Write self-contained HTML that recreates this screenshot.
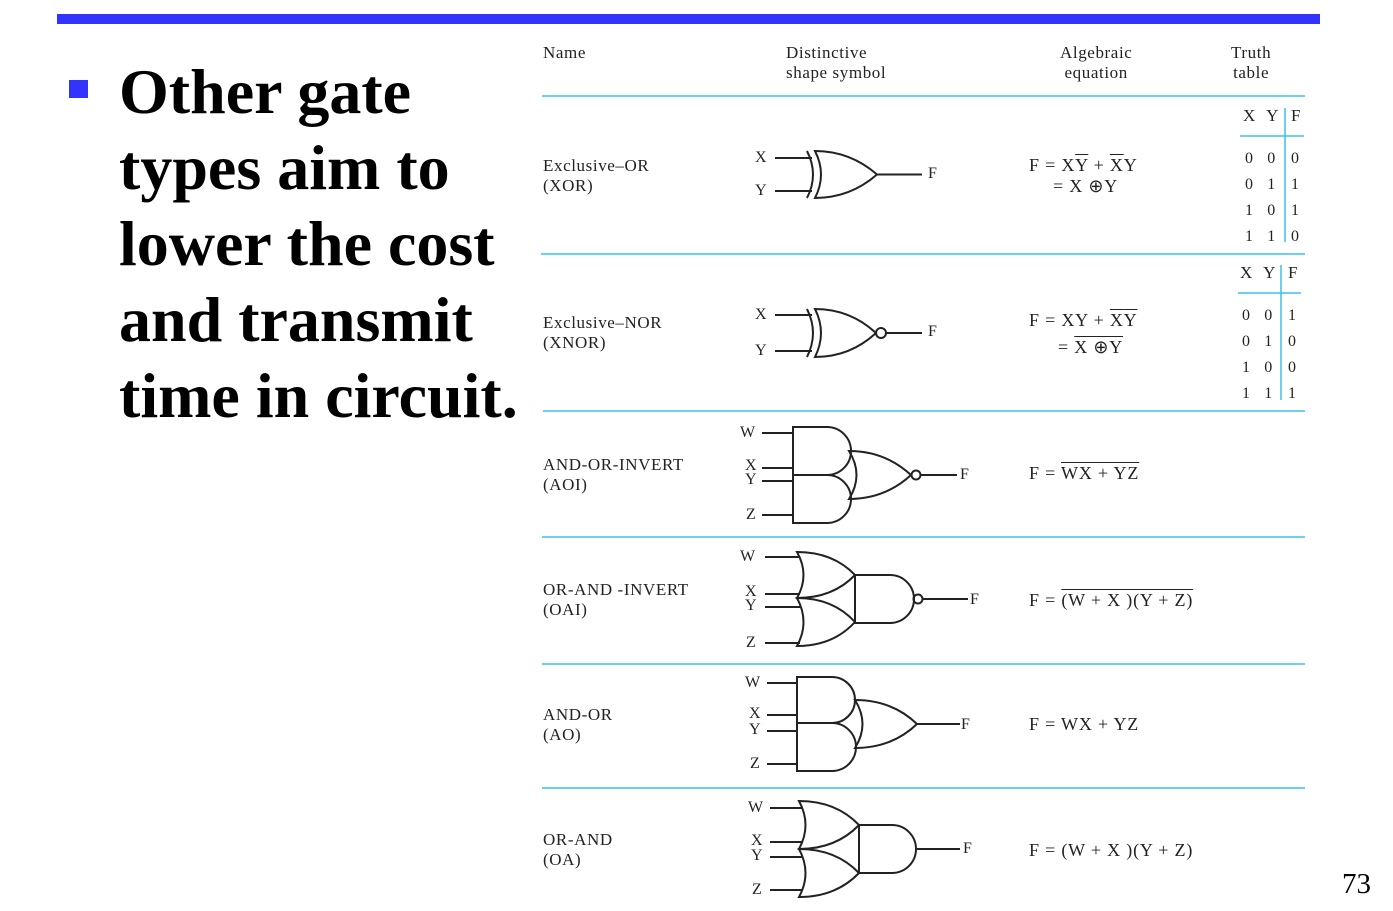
<!DOCTYPE html>
<html><head><meta charset="utf-8"><style>
body{margin:0;width:1393px;height:911px;background:#fff;position:relative;overflow:hidden;font-family:"Liberation Serif",serif;color:#222}
.t{position:absolute;font-size:17px;line-height:20px;white-space:nowrap;letter-spacing:0.6px}
.e{font-size:18px;letter-spacing:0.8px}
.o{text-decoration:overline}
.big{position:absolute;left:119px;top:54px;font-size:64px;line-height:76px;font-weight:bold;color:#000}
.l{position:absolute;font-size:16px;line-height:16px}
</style></head><body>
<div style="position:absolute;left:57px;top:14px;width:1263px;height:10px;background:#3333ff"></div>
<div style="position:absolute;left:69px;top:80px;width:19px;height:18px;background:#3333ff"></div>
<div class="big">Other gate<br>types aim to<br>lower the cost<br>and transmit<br>time in circuit.</div>
<div style="position:absolute;left:1342px;top:868px;font-size:29px;color:#000">73</div>

<div class="t" style="left:543px;top:43px">Name</div>
<div class="t" style="left:786px;top:43px">Distinctive<br>shape symbol</div>
<div class="t" style="left:1060px;top:43px;text-align:center">Algebraic<br>equation</div>
<div class="t" style="left:1231px;top:43px;text-align:center">Truth<br>table</div>

<div class="t" style="left:543px;top:156px">Exclusive–OR<br>(XOR)</div>
<div class="t" style="left:543px;top:313px">Exclusive–NOR<br>(XNOR)</div>
<div class="t" style="left:543px;top:455px">AND-OR-INVERT<br>(AOI)</div>
<div class="t" style="left:543px;top:580px">OR-AND -INVERT<br>(OAI)</div>
<div class="t" style="left:543px;top:705px">AND-OR<br>(AO)</div>
<div class="t" style="left:543px;top:830px">OR-AND<br>(OA)</div>

<div class="t e" style="left:1029px;top:155px">F = X<span class="o">Y</span> + <span class="o">X</span>Y</div>
<div class="t e" style="left:1053px;top:176px">= X ⊕Y</div>
<div class="t e" style="left:1029px;top:310px">F = XY + <span class="o">X</span><span class="o">Y</span></div>
<div class="t e" style="left:1058px;top:337px">= <span class="o">X ⊕Y</span></div>
<div class="t e" style="left:1029px;top:463px">F = <span class="o">WX + YZ</span></div>
<div class="t e" style="left:1029px;top:590px">F = <span class="o">(W + X )(Y + Z)</span></div>
<div class="t e" style="left:1029px;top:714px">F = WX + YZ</div>
<div class="t e" style="left:1029px;top:840px">F = (W + X )(Y + Z)</div>

<!-- truth tables -->
<div class="t" style="left:1243px;top:106px;word-spacing:6px">X Y</div><div class="t" style="left:1291px;top:106px">F</div>
<div class="t" style="left:1245px;top:146px;line-height:26px;font-size:16px;word-spacing:9px">0 0<br>0 1<br>1 0<br>1 1</div>
<div class="t" style="left:1291px;top:146px;line-height:26px;font-size:16px">0<br>1<br>1<br>0</div>
<div class="t" style="left:1240px;top:263px;word-spacing:6px">X Y</div><div class="t" style="left:1288px;top:263px">F</div>
<div class="t" style="left:1242px;top:303px;line-height:26px;font-size:16px;word-spacing:9px">0 0<br>0 1<br>1 0<br>1 1</div>
<div class="t" style="left:1288px;top:303px;line-height:26px;font-size:16px">1<br>0<br>0<br>1</div>

<!-- gate labels -->
<div class="l" style="left:755px;top:150px">X</div><div class="l" style="left:755px;top:183px">Y</div><div class="l" style="left:928px;top:166px">F</div>
<div class="l" style="left:755px;top:307px">X</div><div class="l" style="left:755px;top:343px">Y</div><div class="l" style="left:928px;top:324px">F</div>
<div class="l" style="left:740px;top:425px">W</div><div class="l" style="left:745px;top:458px">X</div><div class="l" style="left:745px;top:472px">Y</div><div class="l" style="left:746px;top:507px">Z</div><div class="l" style="left:960px;top:467px">F</div>
<div class="l" style="left:740px;top:549px">W</div><div class="l" style="left:745px;top:584px">X</div><div class="l" style="left:745px;top:598px">Y</div><div class="l" style="left:746px;top:635px">Z</div><div class="l" style="left:970px;top:592px">F</div>
<div class="l" style="left:745px;top:675px">W</div><div class="l" style="left:749px;top:706px">X</div><div class="l" style="left:749px;top:722px">Y</div><div class="l" style="left:750px;top:756px">Z</div><div class="l" style="left:961px;top:717px">F</div>
<div class="l" style="left:748px;top:800px">W</div><div class="l" style="left:751px;top:833px">X</div><div class="l" style="left:751px;top:848px">Y</div><div class="l" style="left:752px;top:882px">Z</div><div class="l" style="left:963px;top:841px">F</div>

<svg width="1393" height="911" style="position:absolute;left:0;top:0" fill="none">
<g stroke="#3cbff0" stroke-width="1.5">
<line x1="542" y1="96" x2="1305" y2="96"/><line x1="541" y1="254" x2="1305" y2="254"/>
<line x1="543" y1="411" x2="1305" y2="411"/><line x1="542" y1="537" x2="1305" y2="537"/>
<line x1="542" y1="664" x2="1305" y2="664"/><line x1="542" y1="788" x2="1305" y2="788"/>
<line x1="1285" y1="108" x2="1285" y2="242"/><line x1="1240" y1="136" x2="1304" y2="136"/>
<line x1="1281" y1="265" x2="1281" y2="400"/><line x1="1238" y1="293" x2="1301" y2="293"/>
</g>
<g stroke="#222" stroke-width="2">
<line x1="775" y1="158" x2="812" y2="158"/><line x1="775" y1="191" x2="812" y2="191"/>
<path d="M807 151 Q819 174.5 807 198"/>
<path d="M815 151 Q850 151 877 174.5 Q850 198 815 198 Q827 174.5 815 151Z"/>
<line x1="877" y1="174.5" x2="922" y2="174.5"/>
<line x1="775" y1="315" x2="812" y2="315"/><line x1="775" y1="351" x2="812" y2="351"/>
<path d="M807 309 Q819 333 807 357"/>
<path d="M815 309 Q850 309 876 333 Q850 357 815 357 Q827 333 815 309Z"/>
<circle cx="881" cy="333" r="5"/><line x1="886" y1="333" x2="922" y2="333"/>
<line x1="762" y1="433" x2="793" y2="433"/><line x1="762" y1="468" x2="793" y2="468"/><line x1="762" y1="481" x2="793" y2="481"/><line x1="762" y1="515" x2="793" y2="515"/>
<path d="M793 427 H827 A24 24 0 0 1 827 475 H793Z"/>
<path d="M793 475 H827 A24 24 0 0 1 827 523 H793Z"/>
<path d="M849 451 Q885 451 911 475 Q885 499 849 499 Q864 475 849 451Z"/>
<circle cx="916" cy="475" r="4.5"/><line x1="920" y1="475" x2="957" y2="475"/>
<line x1="765" y1="557" x2="800" y2="557"/><line x1="765" y1="594" x2="800" y2="594"/><line x1="765" y1="607" x2="800" y2="607"/><line x1="765" y1="643" x2="800" y2="643"/>
<path d="M797 552 Q833 552 855 575 Q833 598 797 598 Q810 575 797 552Z"/>
<path d="M797 598 Q833 598 855 622 Q833 646 797 646 Q810 622 797 598Z"/>
<path d="M855 575 H890 A24 24 0 0 1 890 623 H855Z"/>
<circle cx="918" cy="599" r="4.5"/><line x1="922" y1="599" x2="968" y2="599"/>
<line x1="767" y1="683" x2="797" y2="683"/><line x1="767" y1="715" x2="797" y2="715"/><line x1="767" y1="731" x2="797" y2="731"/><line x1="767" y1="764" x2="797" y2="764"/>
<path d="M797 677 H832 A23 23 0 0 1 832 723 H797Z"/>
<path d="M797 723 H832 A24 24 0 0 1 832 771 H797Z"/>
<path d="M855 700 Q892 700 917 724 Q892 748 855 748 Q870 724 855 700Z"/>
<line x1="917" y1="724" x2="960" y2="724"/>
<line x1="770" y1="808" x2="803" y2="808"/><line x1="770" y1="842" x2="803" y2="842"/><line x1="770" y1="857" x2="803" y2="857"/><line x1="770" y1="890" x2="803" y2="890"/>
<path d="M799 801 Q836 801 859 825 Q836 849 799 849 Q812 825 799 801Z"/>
<path d="M799 849 Q836 849 859 873 Q836 897 799 897 Q812 873 799 849Z"/>
<path d="M859 825 H892 A24 24 0 0 1 892 873 H859Z"/>
<line x1="916" y1="849" x2="960" y2="849"/>
</g>
</svg>
</body></html>
